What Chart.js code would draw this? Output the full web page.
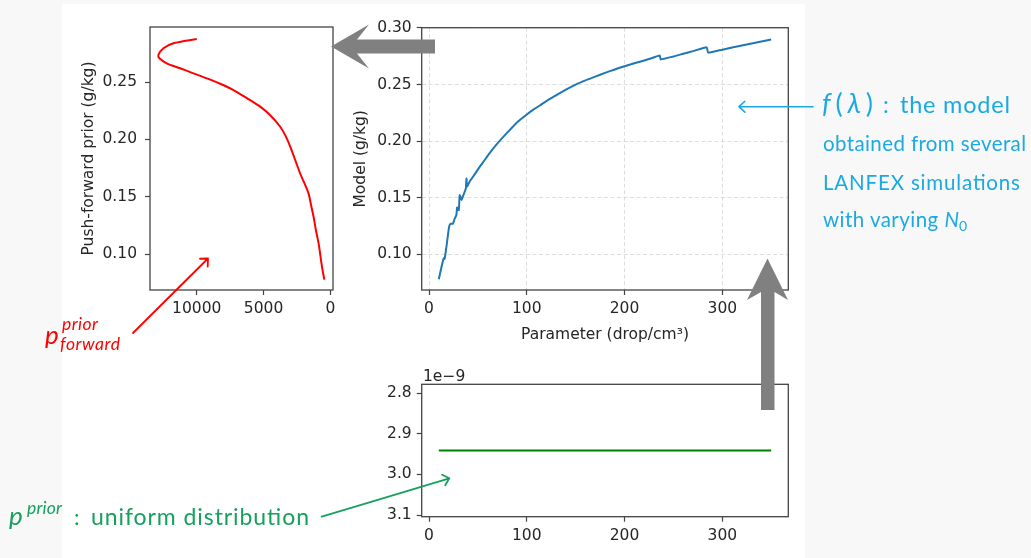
<!DOCTYPE html>
<html lang="en">
<head>
<meta charset="UTF-8">
<title>Prior, model and push-forward prior</title>
<script src="https://cdn.jsdelivr.net/npm/chart.js"></script>
<style>
  html, body { margin: 0; padding: 0; }
  body { width: 1031px; height: 558px; background: #f8f8f8; position: relative; overflow: hidden; }
  .sheet { position: absolute; left: 62px; top: 4px; width: 743px; height: 554px; background: #fff; }
  .panel { position: absolute; }
  svg.notes { position: absolute; left: 0; top: 0; pointer-events: none; }
</style>
</head>
<body>

<div class="sheet"></div>
<canvas class="panel" id="pushforward" width="350" height="330" style="left:0;top:0"></canvas>
<canvas class="panel" id="model" width="480" height="350" style="left:340px;top:0"></canvas>
<canvas class="panel" id="prior" width="480" height="208" style="left:340px;top:350px"></canvas>

<svg class="notes" width="1031" height="558" xmlns="http://www.w3.org/2000/svg">
  <g id="arrows"></g>

  <!-- offset text of the prior axis -->
  <text x="423" y="381" font-family="DejaVu Sans" font-size="15.5" fill="#262626">1e−9</text>

  <!-- model caption -->
  <g font-family="Lato" fill="#1ba9e2">
    <text x="822" y="113" font-size="27" textLength="51"><tspan font-style="italic">f</tspan>(<tspan font-style="italic">λ</tspan>)</text>
    <text x="883" y="113" font-size="23">:</text>
    <text x="900" y="113" font-size="23.5" textLength="110">the model</text>
    <text x="823" y="151" font-size="20.5" textLength="203">obtained from several</text>
    <text x="823" y="189.5" font-size="20.5" textLength="197">LANFEX simulations</text>
    <text x="823" y="227" font-size="20.5"><tspan textLength="121">with varying </tspan><tspan font-style="italic">N</tspan><tspan font-size="14" dy="4">0</tspan></text>
  </g>

  <!-- push-forward prior caption -->
  <g font-family="Lato" font-style="italic" fill="#ff0000">
    <text x="45" y="344" font-size="26">p</text>
    <text x="62" y="330" font-size="17.5" textLength="36">prior</text>
    <text x="60" y="350" font-size="17.5" textLength="60">forward</text>
  </g>

  <!-- prior caption -->
  <g font-family="Lato" fill="#16a05d">
    <text x="9" y="525" font-size="26" font-style="italic">p</text>
    <text x="27" y="514" font-size="17.5" font-style="italic" textLength="35">prior</text>
    <text x="74" y="525" font-size="22">:</text>
    <text x="91" y="525" font-size="23" textLength="218">uniform distribution</text>
  </g>
</svg>

<script>
  // f(lambda): model output against the parameter (drop/cm3)
  const modelParam = [10, 12, 14, 15, 16, 18, 20.5, 22, 24.5, 26, 28, 28.7, 30.4, 31.4, 33.2, 35,
    37.6, 38.3, 38.9, 42, 45, 50, 55, 62, 70, 80, 90, 100, 107, 115, 122, 130, 140, 150, 160, 170,
    180, 190, 200, 210, 225, 236, 237, 250, 260, 270, 284, 285.5, 300, 320, 335, 350];
  const modelValue = [0.078, 0.086, 0.0935, 0.0965, 0.096, 0.108, 0.1243, 0.127, 0.127, 0.131,
    0.1347, 0.1414, 0.139, 0.1523, 0.148, 0.152, 0.158, 0.167, 0.160, 0.165, 0.1685, 0.175,
    0.181, 0.1895, 0.198, 0.2075, 0.2165, 0.2235, 0.228, 0.2325, 0.2365, 0.2405, 0.2455, 0.250,
    0.2537, 0.257, 0.2603, 0.2633, 0.2662, 0.2688, 0.2725, 0.2757, 0.2722, 0.2748, 0.2772,
    0.2795, 0.283, 0.2782, 0.2808, 0.2845, 0.2872, 0.2898];

  // push-forward prior: density against model value (g/kg)
  const pushDensity = [450, 625, 875, 1100, 1250, 1450, 1625, 1950, 2250, 2600, 3000, 3350, 3750,
    4500, 5250, 6250, 7250, 8250, 9243, 10300, 11245, 12245, 12795, 12870, 12495, 11745, 10000];
  const pushValue = [0.0777, 0.089, 0.109, 0.122, 0.1323, 0.143, 0.1527, 0.162, 0.170, 0.181,
    0.1936, 0.203, 0.211, 0.221, 0.2285, 0.236, 0.243, 0.2485, 0.2532, 0.2578, 0.262, 0.2663,
    0.2707, 0.2736, 0.2794, 0.2838, 0.2875];

  // uniform prior on [10, 350], in units of 1e-9
  const priorParam = [10, 350];
  const priorDensity = [2.941, 2.941];

  const paramTicks = [0, 100, 200, 300];
  const modelTicks = [0.10, 0.15, 0.20, 0.25, 0.30];
  const pushTicks = [0.10, 0.15, 0.20, 0.25];
  const densityTicks = [10000, 5000, 0];
  const priorTicks = [2.8, 2.9, 3.0, 3.1];

  const INK = '#262626';
  const FRAME = '#444';
  const tickFont = { family: 'DejaVu Sans', size: 15.5 };

  // full box around the plot area, like matplotlib spines
  const frame = {
    id: 'frame',
    afterDraw(chart) {
      const { ctx, chartArea: a } = chart;
      ctx.save();
      ctx.strokeStyle = FRAME;
      ctx.lineWidth = 1.3;
      ctx.strokeRect(a.left, a.top, a.right - a.left, a.bottom - a.top);
      ctx.restore();
    }
  };

  function axis(o) {
    return {
      type: 'linear',
      min: o.min,
      max: o.max,
      reverse: !!o.reverse,
      afterBuildTicks: s => { s.ticks = o.ticks.map(v => ({ value: v })); },
      afterFit: s => {
        if (o.width) s.width = o.width;
        if (o.height) s.height = o.height;
      },
      grid: {
        drawOnChartArea: !!o.grid,
        color: '#d9d9d9',
        lineWidth: 0.9,
        tickLength: 5,
        tickColor: FRAME,
        tickWidth: 1.2
      },
      border: { display: false, dash: [4, 2.5] },
      ticks: { font: tickFont, color: INK, padding: o.pad || 5, callback: o.fmt },
      title: o.title
        ? { display: true, text: o.title, font: tickFont, color: INK, padding: o.titlePad }
        : { display: false }
    };
  }

  function series(xs, ys, color, tension) {
    return {
      data: xs.map((x, i) => ({ x: x, y: ys[i] })),
      showLine: true,
      borderColor: color,
      borderWidth: 2,
      pointRadius: 0,
      tension: tension || 0,
      fill: false
    };
  }

  function plot(id, dataset, x, y, padding) {
    return new Chart(document.getElementById(id), {
      type: 'scatter',
      data: { datasets: [dataset] },
      options: {
        responsive: false,
        animation: false,
        events: [],
        layout: { padding: padding },
        plugins: { legend: { display: false }, tooltip: { enabled: false } },
        scales: { x: x, y: y }
      },
      plugins: [frame]
    });
  }

  plot('pushforward',
    series(pushDensity, pushValue, '#ff0000', 0.3),
    axis({ min: -200, max: 13500, reverse: true, ticks: densityTicks, height: 40, fmt: v => String(v) }),
    axis({ min: 0.0686, max: 0.298, ticks: pushTicks, width: 80, pad: 8, fmt: v => v.toFixed(2),
      title: 'Push-forward prior (g/kg)', titlePad: { top: 9.7, bottom: 0 } }),
    { left: 70, right: 17, top: 27, bottom: 0 });

  plot('model',
    series(modelParam, modelValue, '#1f77b4', 0.15),
    axis({ min: -7.5, max: 367.5, ticks: paramTicks, grid: true, height: 54, fmt: v => String(v),
      title: 'Parameter (drop/cm³)', titlePad: { top: 0, bottom: 0.2 } }),
    axis({ min: 0.0685, max: 0.3002, ticks: modelTicks, grid: true, width: 76.7, fmt: v => v.toFixed(2),
      title: 'Model (g/kg)', titlePad: { top: 6.2, bottom: 0 } }),
    { left: 5, right: 31.7, top: 27.7, bottom: 6 });

  plot('prior',
    series(priorParam, priorDensity, '#008000'),
    axis({ min: -7.5, max: 367.5, ticks: paramTicks, height: 41.3, fmt: v => String(v) }),
    axis({ min: 2.778, max: 3.104, reverse: true, ticks: priorTicks, width: 76.7, fmt: v => v.toFixed(1) }),
    { left: 5, right: 31.7, top: 34.3, bottom: 0 });

  // arrows linking the panels and the captions
  const NS = 'http://www.w3.org/2000/svg';
  const arrowLayer = document.getElementById('arrows');

  function shape(tag, attrs) {
    const el = document.createElementNS(NS, tag);
    for (const k in attrs) el.setAttribute(k, attrs[k]);
    arrowLayer.appendChild(el);
  }

  function thinArrow(x1, y1, x2, y2, color, width) {
    const a = Math.atan2(y2 - y1, x2 - x1);
    const len = 8, spread = 0.75;
    const h1 = [x2 - len * Math.cos(a - spread), y2 - len * Math.sin(a - spread)];
    const h2 = [x2 - len * Math.cos(a + spread), y2 - len * Math.sin(a + spread)];
    shape('path', {
      d: `M${x1},${y1} L${x2},${y2} M${h1[0]},${h1[1]} L${x2},${y2} L${h2[0]},${h2[1]}`,
      stroke: color, 'stroke-width': width, fill: 'none', 'stroke-linecap': 'round', 'stroke-linejoin': 'round'
    });
  }

  // thick grey arrows: prior -> model, model -> push-forward prior
  shape('polygon', { points: '331,46.5 369,24.5 357,39.5 435,39.5 435,53.5 357,53.5 369,68.5', fill: '#808080' });
  shape('polygon', { points: '767.5,258.5 788,300 774.5,292 774.5,410 761,410 761,292 747,300', fill: '#808080' });

  thinArrow(813, 106.7, 739, 106.7, '#1ba9e2', 1.6);
  thinArrow(133, 333, 208, 258.5, '#ff0000', 1.8);
  thinArrow(321.7, 516.7, 449.3, 478.3, '#16a05d', 1.8);
</script>

</body>
</html>
